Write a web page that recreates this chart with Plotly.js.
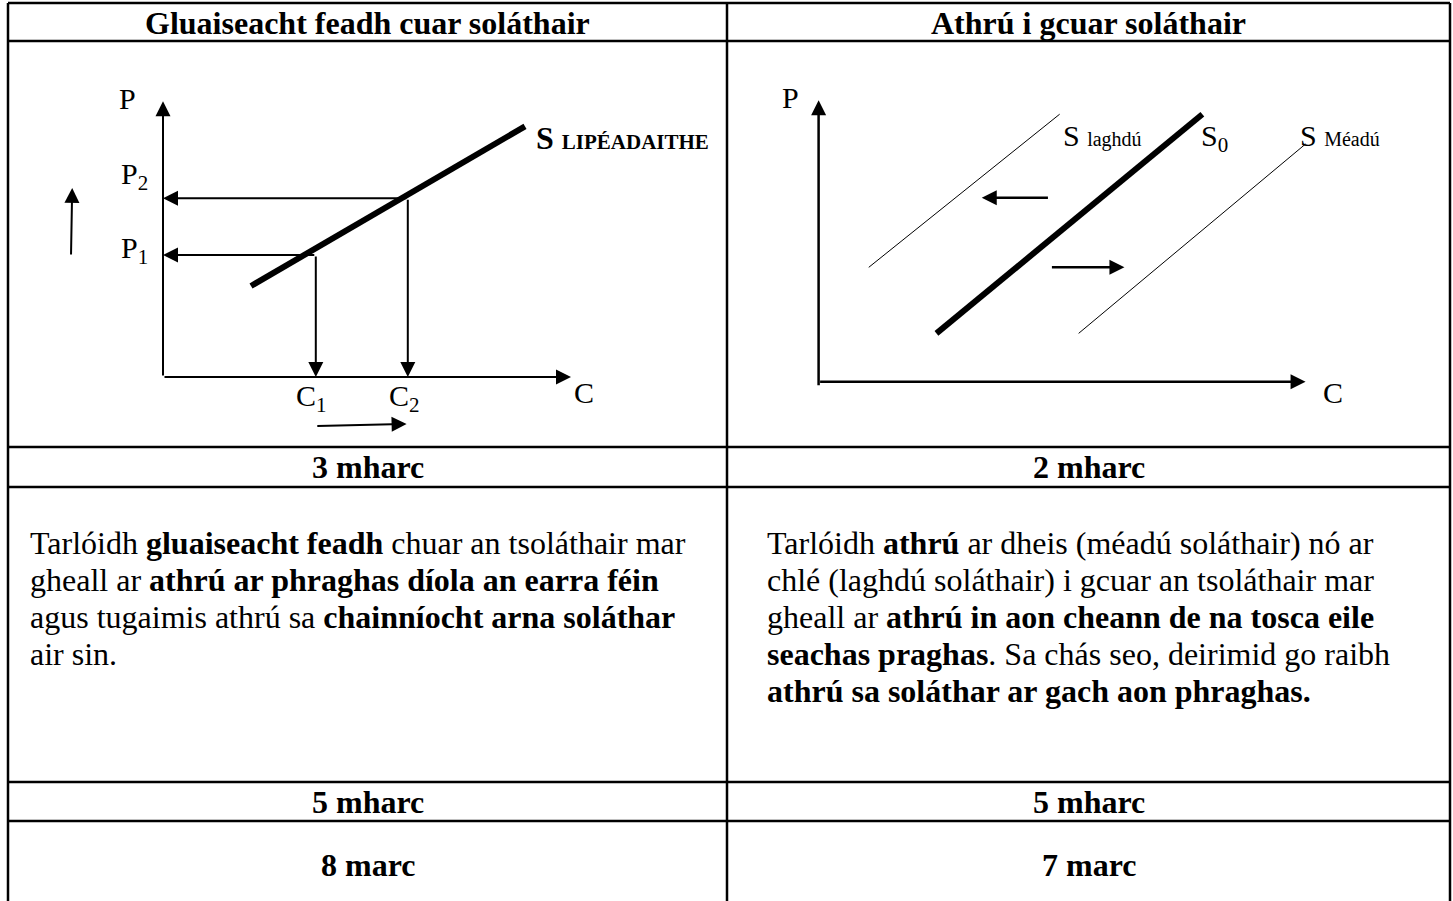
<!DOCTYPE html>
<html>
<head>
<meta charset="utf-8">
<script src="https://cdn.plot.ly/plotly-3.0.1.min.js"></script>
<style>
  html, body { margin: 0; padding: 0; background: #fff; }
  #chart { width: 1453px; height: 901px; }
</style>
</head>
<body>
<div id="chart"></div>
<script>
// Cuar soláthair (clé) - gluaiseacht feadh an chuair
var leftSupplyQ = [2.2, 9.05];
var leftSupplyP = [3.25, 8.95];
var leftQuantities = [3.82, 6.12];   // C1, C2
var leftPrices = [4.36, 6.38];       // P1, P2
var leftAxisMax = [10.2, 9.85];      // C, P
var leftUpArrowQ = [-2.3, -2.27];
var leftUpArrowP = [4.32, 6.75];
var leftRightArrowQ = [3.82, 6.09];
var leftRightArrowP = [-1.75, -1.68];

// Cuar soláthair (deas) - athrú i gcuar
var rightS0Q = [2.42, 7.88];
var rightS0P = [1.72, 9.52];
var rightLaghduQ = [1.03, 4.95];
var rightLaghduP = [4.07, 9.52];
var rightMeaduQ = [5.34, 10.0];
var rightMeaduP = [1.72, 8.46];
var rightAxisMax = [10.0, 10.02];
var rightLeftArrowQ = [4.74, 3.35];
var rightLeftArrowP = [6.55, 6.55];
var rightRightArrowQ = [4.76, 6.28];
var rightRightArrowP = [4.07, 4.07];

// Téacs an tábla
var headers = ['Gluaiseacht feadh cuar soláthair', 'Athrú i gcuar soláthair'];
var marksRow1 = ['3 mharc', '2 mharc'];
var marksRow2 = ['5 mharc', '5 mharc'];
var totals = ['8 marc', '7 marc'];
var leftParagraph = [
  'Tarlóidh <b>gluaiseacht feadh</b> chuar an tsoláthair mar',
  'gheall ar <b>athrú ar phraghas díola an earra féin</b>',
  'agus tugaimis athrú sa <b>chainníocht arna soláthar</b>',
  'air sin.'
];
var rightParagraph = [
  'Tarlóidh <b>athrú</b> ar dheis (méadú soláthair) nó ar',
  'chlé (laghdú soláthair) i gcuar an tsoláthair mar',
  'gheall ar <b>athrú in aon cheann de na tosca eile</b>',
  '<b>seachas praghas</b>. Sa chás seo, deirimid go raibh',
  '<b>athrú sa soláthar ar gach aon phraghas.</b>'
];

var W = 1453, H = 901;
var FONT = 'Liberation Serif, Times New Roman, serif';
function px(x) { return x / W; }
function py(y) { return 1 - y / H; }

function arrow(ax, ay, x, y, xr, yr, w, size) {
  return {
    x: x, y: y, ax: ax, ay: ay,
    xref: xr, yref: yr, axref: xr, ayref: yr,
    text: '', showarrow: true, arrowhead: 2,
    arrowsize: size, arrowwidth: w, arrowcolor: '#000', standoff: 0
  };
}
function label(text, x, y, xr, yr, size, anchor) {
  return {
    x: x, y: y, xref: xr, yref: yr, text: text, showarrow: false,
    xanchor: anchor || 'center', yanchor: 'middle',
    font: {family: FONT, size: size, color: '#000'}
  };
}

var data = [
  {x: leftSupplyQ, y: leftSupplyP, xaxis: 'x', yaxis: 'y', mode: 'lines',
   line: {color: '#000', width: 6}, hoverinfo: 'skip'},
  {x: rightS0Q, y: rightS0P, xaxis: 'x2', yaxis: 'y2', mode: 'lines',
   line: {color: '#000', width: 6}, hoverinfo: 'skip'},
  {x: rightLaghduQ, y: rightLaghduP, xaxis: 'x2', yaxis: 'y2', mode: 'lines',
   line: {color: '#000', width: 1}, hoverinfo: 'skip'},
  {x: rightMeaduQ, y: rightMeaduP, xaxis: 'x2', yaxis: 'y2', mode: 'lines',
   line: {color: '#000', width: 1}, hoverinfo: 'skip'}
];

var ann = [];
// aiseanna
ann.push(arrow(0, 0, 0, leftAxisMax[1], 'x', 'y', 2, 1.5));
ann.push(arrow(0, 0, leftAxisMax[0], 0, 'x', 'y', 2, 1.5));
ann.push(arrow(0, -0.18, 0, rightAxisMax[1], 'x2', 'y2', 2.5, 1.2));
ann.push(arrow(0, 0, rightAxisMax[0], 0, 'x2', 'y2', 2.5, 1.2));
// línte chuig na haiseanna
for (var i = 0; i < 2; i++) {
  ann.push(arrow(leftQuantities[i], leftPrices[i], 0, leftPrices[i], 'x', 'y', 2, 1.5));
  ann.push(arrow(leftQuantities[i], leftPrices[i], leftQuantities[i], 0, 'x', 'y', 2, 1.5));
}
ann.push(arrow(leftUpArrowQ[0], leftUpArrowP[0], leftUpArrowQ[1], leftUpArrowP[1], 'x', 'y', 2, 1.5));
ann.push(arrow(leftRightArrowQ[0], leftRightArrowP[0], leftRightArrowQ[1], leftRightArrowP[1], 'x', 'y', 2, 1.5));
ann.push(arrow(rightLeftArrowQ[0], rightLeftArrowP[0], rightLeftArrowQ[1], rightLeftArrowP[1], 'x2', 'y2', 2.5, 1.2));
ann.push(arrow(rightRightArrowQ[0], rightRightArrowP[0], rightRightArrowQ[1], rightRightArrowP[1], 'x2', 'y2', 2.5, 1.2));

// lipéid na léaráidí
ann.push(label('P', -0.88, 9.95, 'x', 'y', 30));
ann.push(label('P<sub>2</sub>', -0.72, 7.18, 'x', 'y', 30));
ann.push(label('P<sub>1</sub>', -0.72, 4.54, 'x', 'y', 30));
ann.push(label('C<sub>1</sub>', leftQuantities[0] - 0.11, -0.75, 'x', 'y', 30));
ann.push(label('C<sub>2</sub>', leftQuantities[1] - 0.08, -0.75, 'x', 'y', 30));
ann.push(label('C', 10.53, -0.57, 'x', 'y', 30));
ann.push(label('<b>S <span style="font-size:21px">LIPÉADAITHE</span></b>', 9.28, 8.55, 'x', 'y', 32, 'left'));
ann.push(label('P', -0.58, 10.1, 'x2', 'y2', 30));
ann.push(label('C', 10.56, -0.4, 'x2', 'y2', 30));
ann.push(label('S <span style="font-size:20px">laghdú</span>', 4.98, 8.75, 'x2', 'y2', 30, 'left'));
ann.push(label('S<sub>0</sub>', 7.82, 8.68, 'x2', 'y2', 30, 'left'));
ann.push(label('S <span style="font-size:20px">Méadú</span>', 9.84, 8.75, 'x2', 'y2', 30, 'left'));

// téacs an tábla
var colCenters = [px((8 + 727) / 2), px((727 + 1450) / 2)];
for (var c = 0; c < 2; c++) {
  ann.push(label('<b>' + headers[c] + '</b>', colCenters[c], py(23), 'paper', 'paper', 32));
  ann.push(label('<b>' + marksRow1[c] + '</b>', colCenters[c], py(467), 'paper', 'paper', 32));
  ann.push(label('<b>' + marksRow2[c] + '</b>', colCenters[c], py(802), 'paper', 'paper', 32));
  ann.push(label('<b>' + totals[c] + '</b>', colCenters[c], py(865), 'paper', 'paper', 32));
}
var lineStart = 543, lineGap = 37;
leftParagraph.forEach(function (t, k) {
  ann.push(label(t, px(28), py(lineStart + k * lineGap), 'paper', 'paper', 32, 'left'));
});
rightParagraph.forEach(function (t, k) {
  ann.push(label(t, px(765), py(lineStart + k * lineGap), 'paper', 'paper', 32, 'left'));
});

// línte an tábla
var shapes = [];
[3, 41, 447, 487, 782, 821].forEach(function (y) {
  shapes.push({type: 'line', xref: 'paper', yref: 'paper', x0: px(8), x1: px(1450),
    y0: py(y), y1: py(y), line: {color: '#000', width: 2.5}});
});
[8, 727, 1450].forEach(function (x) {
  shapes.push({type: 'line', xref: 'paper', yref: 'paper', x0: px(x), x1: px(x),
    y0: py(3), y1: 0, line: {color: '#000', width: 2.5}});
});

var ax = {visible: false, showgrid: false, zeroline: false, fixedrange: true};
var yDom = [py(447), py(42)];
var layout = {
  width: W, height: H,
  margin: {l: 0, r: 0, t: 0, b: 0},
  paper_bgcolor: '#fff', plot_bgcolor: 'rgba(0,0,0,0)',
  showlegend: false,
  xaxis: Object.assign({}, ax, {domain: [0, px(727)], range: [-4.075, 14.1]}),
  yaxis: Object.assign({}, ax, {domain: yDom, range: [-2.5, 11.964]}),
  xaxis2: Object.assign({}, ax, {domain: [px(727), 1], range: [-1.881, 13.027], anchor: 'y2'}),
  yaxis2: Object.assign({}, ax, {domain: yDom, range: [-2.324, 12.089], anchor: 'x2'}),
  annotations: ann,
  shapes: shapes
};

Plotly.newPlot('chart', data, layout, {displayModeBar: false, staticPlot: true});
</script>
</body>
</html>
